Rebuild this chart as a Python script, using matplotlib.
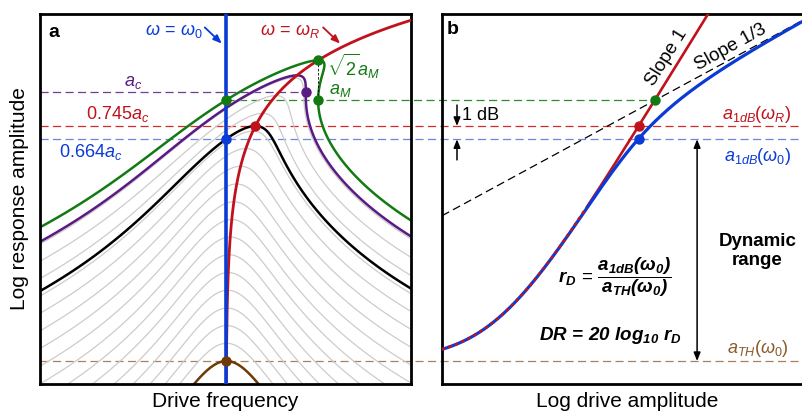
import numpy as np
import matplotlib
matplotlib.use("Agg")
import matplotlib.pyplot as plt
from matplotlib.transforms import blended_transform_factory

plt.rcParams["font.family"] = ["Liberation Sans", "DejaVu Sans"]
plt.rcParams["mathtext.fontset"] = "custom"
plt.rcParams["mathtext.rm"] = "Liberation Sans"
plt.rcParams["mathtext.it"] = "Liberation Sans:italic"
plt.rcParams["mathtext.bf"] = "Liberation Sans:bold:italic"

# ============================================================
# Values (log10 of scaled amplitude)
# ============================================================

LOG_A_TH   = -0.984    # a_TH(w0), brown
LOG_BLACK  = -0.097    # 0.745 a_c  -> a_1dB(w_R)
LOG_BLUE   = -0.147    # 0.664 a_c  -> a_1dB(w0)
LOG_AC     = 0.031     # a_c, purple
LOG_AM     = 0.000     # a_M, green
LOG_PURPLE = 0.094     # peak of critical (purple) curve
LOG_GREEN  = 0.151     # sqrt(2) a_M, green peak

# peak heights of the thin grey response curves
GRAY_PEAK_LOG = [-0.917, -0.850, -0.784, -0.717, -0.650, -0.583, -0.516, -0.450,
                 -0.383, -0.316, -0.249, -0.182, -0.116, -0.049, 0.018, 0.085]

# detuning of the marked points in panel a
W_BLACK_PEAK = 0.64
W_CRIT       = 1.73
W_GREEN_PEAK = 2.00

# drive (log) where the red w_R curve leaves the blue one in panel b
U_SPLIT = -0.42

BLUE, RED, GREEN = "#0b3bd6", "#c0121c", "#137a13"
PURPLE, BROWN, GRAY = "#5a1a85", "#6e3a06", "#cccccc"

XA = (-4.04, 4.02)
XB = (-1.307, 0.969)
YL = (-1.0706, 0.3256)

# ============================================================
# Figure / axes
# ============================================================

fig = plt.figure(figsize=(8.02, 4.18), dpi=100)
ax_a = fig.add_axes([40 / 802, 34 / 418, 371 / 802, 370 / 418])
ax_b = fig.add_axes([442 / 802, 34 / 418, 371 / 802, 370 / 418])

for ax, xl in ((ax_a, XA), (ax_b, XB)):
    ax.set_xlim(*xl)
    ax.set_ylim(*YL)
    ax.set_xticks([])
    ax.set_yticks([])
    ax.set_facecolor("none")
    for sp in ax.spines.values():
        sp.set_linewidth(2.0)
ax_b.spines["right"].set_visible(False)

# ── Panel a: Duffing response curves as contours ───────────────
W = np.linspace(-4.3, 4.3, 1400)
Y = np.linspace(-1.12, 0.36, 1200)
WW, YY = np.meshgrid(W, Y)
P = 10 ** (2 * YY)
Z = P * ((WW - P) ** 2 + 1)

def drive_sq(log_peak):
    return 10 ** (2 * log_peak)

ax_a.contour(WW, YY, Z, levels=[drive_sq(v) for v in GRAY_PEAK_LOG],
             colors=GRAY, linewidths=0.9, zorder=1)
for lp, col in ((LOG_BLACK, "k"), (LOG_PURPLE, PURPLE),
                (LOG_GREEN, GREEN), (LOG_A_TH, BROWN)):
    ax_a.contour(WW, YY, Z, levels=[drive_sq(lp)], colors=col,
                 linewidths=1.8, zorder=2)

# backbone: peak locus (w = w_R)
yb = np.linspace(YL[0], YL[1], 400)
ax_a.plot(10 ** (2 * yb), yb, color=RED, lw=2.0, zorder=3)
ax_a.axvline(0, color=BLUE, lw=2.6, zorder=4)

ax_a.plot([W_GREEN_PEAK, W_GREEN_PEAK], [LOG_AM, LOG_GREEN], color="k",
          lw=0.6, ls=(0, (3, 2)), zorder=3)

dots_a = [(0, LOG_AM, GREEN), (W_GREEN_PEAK, LOG_AM, GREEN),
          (W_GREEN_PEAK, LOG_GREEN, GREEN), (W_CRIT, LOG_AC, PURPLE),
          (W_BLACK_PEAK, LOG_BLACK, RED), (0, LOG_BLUE, BLUE),
          (0, LOG_A_TH, BROWN)]
for x, y, c in dots_a:
    ax_a.plot(x, y, "o", color=c, ms=7.5, mec="none", zorder=6)

# ── Panel b: response vs drive ─────────────────────────────────
u = np.linspace(XB[0], XB[1], 600)
q = 10 ** (2 * u)                      # f^2
D = np.sqrt(q ** 2 / 4 + 1 / 27)
p0 = np.cbrt(q / 2 + D) + np.cbrt(q / 2 - D)   # p^3 + p = f^2
a_th2 = 10 ** (2 * LOG_A_TH)
y_blue = 0.5 * np.log10(p0 + a_th2)
y_red = 0.5 * np.log10(q + a_th2)

hi = u >= U_SPLIT
ax_b.plot(u[hi], y_red[hi], color=RED, lw=1.9, zorder=3)
ax_b.plot(u, y_blue, color=BLUE, lw=2.3, zorder=4)
ax_b.plot(u[~hi], y_red[~hi], color=RED, lw=1.9, ls=(0, (1.3, 1.3)), zorder=5)
ax_b.plot(u, u / 3, color="k", lw=0.9, ls=(0, (6.5, 3.5)), zorder=2)

for x, y, c in ((0, LOG_AM, GREEN), (LOG_BLACK, LOG_BLACK, RED),
                (LOG_BLACK, LOG_BLUE, BLUE)):
    ax_b.plot(x, y, "o", color=c, ms=7.5, mec="none", zorder=6)

# ── Horizontal dashed levels across both panels ───────────────
tr = blended_transform_factory(fig.transFigure, ax_a.transData)

def fx(ax, x):
    return fig.transFigure.inverted().transform(ax.transData.transform((x, 0)))[0]

x0 = 40 / 802
dash = (0, (6.5, 3.5))
levels = [(x0, fx(ax_a, W_CRIT), LOG_AC, "#6f3c99"),
          (fx(ax_a, 0), fx(ax_b, 0), LOG_AM, "#2e8b2e"),
          (x0, 1.0, LOG_BLACK, "#d42a2a"),
          (x0, 1.0, LOG_BLUE, "#6c86e0"),
          (x0, 1.0, LOG_A_TH, "#a88060")]
for xs, xe, y, c in levels:
    fig.add_artist(plt.Line2D([xs, xe], [y, y], transform=tr, color=c,
                              lw=0.9, ls=dash, zorder=-1))

# ── Text, panel a ──────────────────────────────────────────────
fs = 13
ax_a.text(0.022, 0.951, "a", transform=ax_a.transAxes, fontsize=14,
          fontweight="bold", va="center")
ax_a.text(-1.13, 0.261, r"$\omega\,=\,\omega_0$", color=BLUE, fontsize=fs,
          ha="center", va="center")
ax_a.annotate("", xy=(-0.09, 0.214), xytext=(-0.46, 0.275),
              arrowprops=dict(arrowstyle="-|>,head_length=0.5,head_width=0.2",
                              color=BLUE, lw=1.3, shrinkA=0, shrinkB=0))
ax_a.text(1.39, 0.261, r"$\omega\,=\,\omega_R$", color=RED, fontsize=fs,
          ha="center", va="center")
ax_a.annotate("", xy=(2.48, 0.214), xytext=(2.11, 0.275),
              arrowprops=dict(arrowstyle="-|>,head_length=0.5,head_width=0.2",
                              color=RED, lw=1.3, shrinkA=0, shrinkB=0))
ax_a.text(2.78, 0.126, r"$\sqrt{2}a_M$", color=GREEN, fontsize=fs,
          ha="center", va="center")
ax_a.text(2.48, 0.037, r"$a_M$", color=GREEN, fontsize=fs,
          ha="center", va="center")
ax_a.text(-2.02, 0.069, r"$a_c$", color=PURPLE, fontsize=fs,
          ha="center", va="center")
ax_a.text(-2.35, -0.052, r"$0.745a_c$", color=RED, fontsize=fs,
          ha="center", va="center")
ax_a.text(-2.93, -0.195, r"$0.664a_c$", color=BLUE, fontsize=fs,
          ha="center", va="center")

ax_a.set_xlabel("Drive frequency", fontsize=15, labelpad=6)
ax_a.set_ylabel("Log response amplitude", fontsize=15, labelpad=8)

# ── Text, panel b ──────────────────────────────────────────────
ax_b.text(0.013, 0.957, "b", transform=ax_b.transAxes, fontsize=14,
          fontweight="bold", va="center")
ax_b.text(0.074, 0.163, "Slope 1", fontsize=13.5, rotation=58,
          ha="center", va="center")
ax_b.text(0.46, 0.201, "Slope 1/3", fontsize=13.5, rotation=29,
          ha="center", va="center")
ax_b.text(-1.185, -0.059, "1 dB", fontsize=fs, ha="left", va="center")
arr = dict(arrowstyle="-|>,head_length=0.5,head_width=0.2", color="k",
           lw=1.1, shrinkA=0, shrinkB=0)
ax_b.annotate("", xy=(-1.215, LOG_BLACK), xytext=(-1.215, -0.018),
              arrowprops=arr)
ax_b.annotate("", xy=(-1.215, LOG_BLUE), xytext=(-1.215, -0.225),
              arrowprops=arr)
ax_b.annotate("", xy=(0.258, LOG_BLUE), xytext=(0.258, LOG_A_TH),
              arrowprops=dict(arrowstyle="<|-|>,head_length=0.5,head_width=0.2",
                              color="k", lw=1.1, shrinkA=0, shrinkB=0))
ax_b.text(0.626, -0.052, r"$a_{1dB}(\omega_R)$", color=RED, fontsize=fs,
          ha="center", va="center")
ax_b.text(0.632, -0.214, r"$a_{1dB}(\omega_0)$", color=BLUE, fontsize=fs,
          ha="center", va="center")
ax_b.text(0.632, -0.935, r"$a_{TH}(\omega_0)$", color="#8b5a2b", fontsize=fs,
          ha="center", va="center")
ax_b.text(0.628, -0.569, "Dynamic\nrange", fontsize=13.5, fontweight="bold",
          ha="center", va="center", linespacing=1.15)
ax_b.text(-0.245, -0.667,
          r"$\mathbf{r_D}\,=\,\dfrac{\mathbf{a_{1dB}(\omega_0)}}{\mathbf{a_{TH}(\omega_0)}}$",
          fontsize=13.5, ha="center", va="center")
ax_b.text(-0.276, -0.886, r"$\mathbf{DR\,=\,20\ log_{10}\ r_D}$",
          fontsize=13.5, ha="center", va="center")

ax_b.set_xlabel("Log drive amplitude", fontsize=15, labelpad=6)

fig.savefig("out.png", dpi=100)
